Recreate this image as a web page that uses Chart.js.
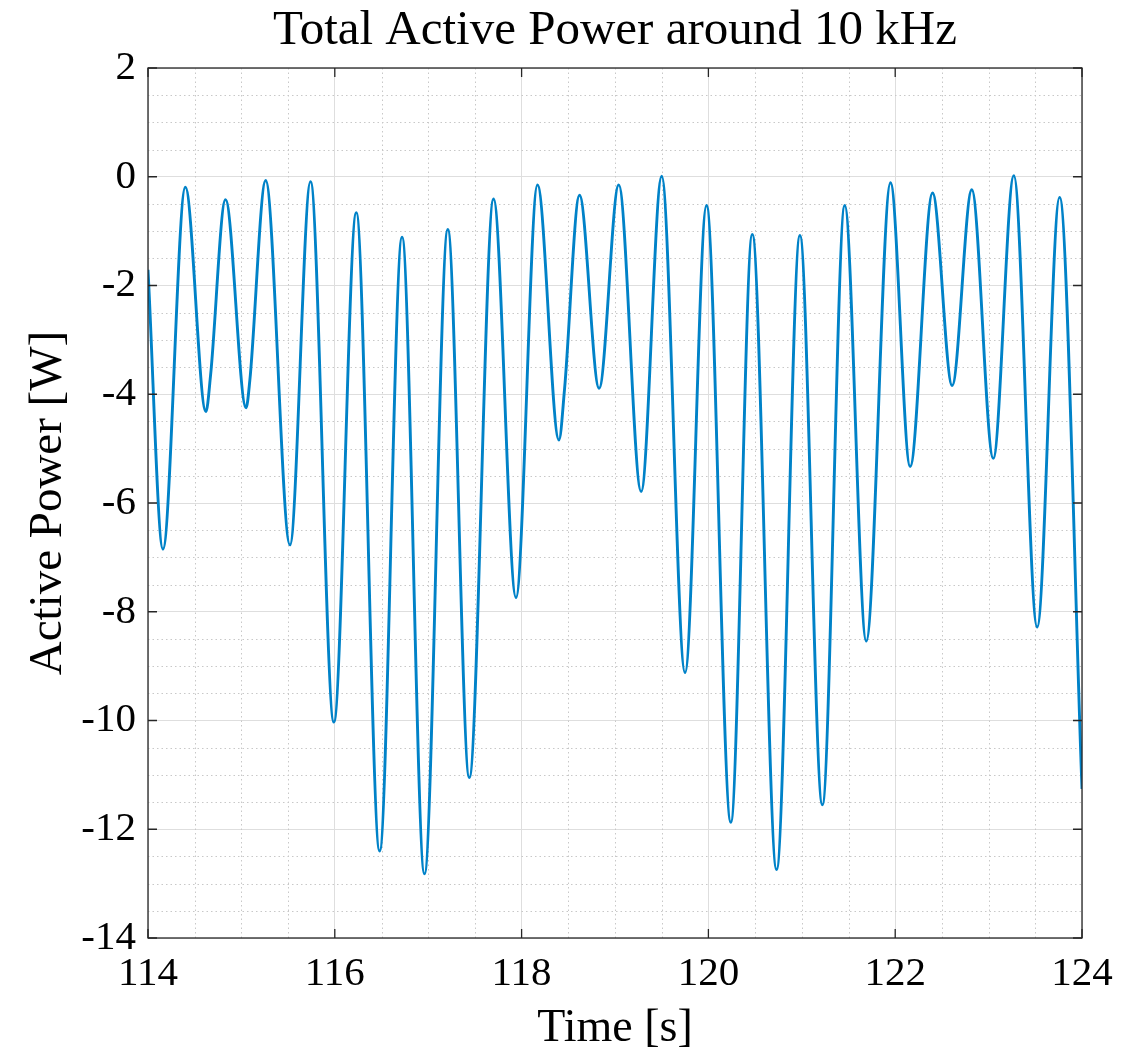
<!DOCTYPE html>
<html>
<head>
<meta charset="utf-8">
<title>Total Active Power around 10 kHz</title>
<script src="https://cdn.jsdelivr.net/npm/chart.js@4/dist/chart.umd.min.js"></script>
<style>
  html, body { margin: 0; padding: 0; background: #ffffff; }
  #wrap { width: 1143px; height: 1054px; }
</style>
</head>
<body>
<div id="wrap"><canvas id="chart" width="1143" height="1054"></canvas></div>
<script>
// Samples (peaks, troughs and a few shoulders)
const timeS = [
  114.00, 114.16, 114.40, 114.62, 114.67, 114.83, 115.05, 115.09, 115.26, 115.52,
  115.74, 115.99, 116.23, 116.48, 116.72, 116.96, 117.21, 117.44, 117.70, 117.94,
  118.17, 118.40, 118.46, 118.62, 118.83, 119.04, 119.28, 119.50, 119.75, 119.98,
  120.24, 120.47, 120.73, 120.98, 121.22, 121.46, 121.69, 121.95, 122.16, 122.40,
  122.61, 122.82, 123.05, 123.27, 123.52, 123.76, 124.00
]

const powerW = [
  -1.71, -6.85, -0.19, -4.32, -3.65, -0.42, -4.25, -3.75, -0.07, -6.77,
  -0.09, -10.03, -0.66, -12.40, -1.11, -12.82, -0.97, -11.05, -0.41, -7.74,
  -0.15, -4.84, -3.90, -0.34, -3.89, -0.15, -5.79, 0.01, -9.12, -0.53,
  -11.87, -1.06, -12.74, -1.08, -11.55, -0.53, -8.54, -0.11, -5.33, -0.30,
  -3.84, -0.24, -5.18, 0.02, -8.28, -0.38, -11.26
]

// Axis limits and tick steps
const xLimits = [114, 124]
const yLimits = [-14, 2]
const majorStep = 2
const minorStep = 0.5

const serif = "'Liberation Serif', 'DejaVu Serif', serif"
const lineColor = 'rgb(0, 130, 200)'
const boxColor = '#262626'

const points = timeS.map((t, i) => ({ x: t, y: powerW[i] }))

// Dotted minor grid, drawn under the data
const minorGrid = {
  id: 'minorGrid',
  beforeDatasetsDraw(chart) {
    const { ctx, chartArea, scales } = chart
    ctx.save()
    ctx.strokeStyle = '#c8c8c8'
    ctx.lineWidth = 1
    ctx.setLineDash([1.5, 3])
    for (let v = xLimits[0]; v <= xLimits[1] + 1e-9; v += minorStep) {
      if (Math.abs(v / majorStep - Math.round(v / majorStep)) < 1e-6) continue
      const px = Math.round(scales.x.getPixelForValue(v)) + 0.5
      ctx.beginPath()
      ctx.moveTo(px, chartArea.top)
      ctx.lineTo(px, chartArea.bottom)
      ctx.stroke()
    }
    for (let v = yLimits[0]; v <= yLimits[1] + 1e-9; v += minorStep) {
      if (Math.abs(v / majorStep - Math.round(v / majorStep)) < 1e-6) continue
      const py = Math.round(scales.y.getPixelForValue(v)) + 0.5
      ctx.beginPath()
      ctx.moveTo(chartArea.left, py)
      ctx.lineTo(chartArea.right, py)
      ctx.stroke()
    }
    ctx.restore()
  }
}

// Axes box with inward tick marks on all four sides
const axesBox = {
  id: 'axesBox',
  afterDraw(chart) {
    const { ctx, chartArea, scales } = chart
    const { left, right, top, bottom } = chartArea
    const len = 9
    ctx.save()
    ctx.strokeStyle = boxColor
    ctx.lineWidth = 1.3
    ctx.setLineDash([])
    ctx.strokeRect(left, top, right - left, bottom - top)
    ctx.beginPath()
    for (let v = xLimits[0]; v <= xLimits[1]; v += majorStep) {
      const px = scales.x.getPixelForValue(v)
      ctx.moveTo(px, bottom)
      ctx.lineTo(px, bottom - len)
      ctx.moveTo(px, top)
      ctx.lineTo(px, top + len)
    }
    for (let v = yLimits[0]; v <= yLimits[1]; v += majorStep) {
      const py = scales.y.getPixelForValue(v)
      ctx.moveTo(left, py)
      ctx.lineTo(left + len, py)
      ctx.moveTo(right, py)
      ctx.lineTo(right - len, py)
    }
    ctx.stroke()
    ctx.restore()
  }
}

const config = {
  type: 'line',
  data: {
    datasets: [{
      label: 'Active Power',
      data: points,
      borderColor: lineColor,
      borderWidth: 2.9,
      pointRadius: 0,
      fill: false,
      cubicInterpolationMode: 'monotone'
    }]
  },
  options: {
    responsive: false,
    animation: false,
    devicePixelRatio: 1,
    layout: {
      padding: { left: 0, right: 61, top: 0, bottom: 0 }
    },
    plugins: {
      legend: { display: false },
      tooltip: { enabled: false },
      title: {
        display: true,
        fullSize: false,
        text: 'Total Active Power around 10 kHz',
        color: '#000000',
        font: { family: serif, size: 49, weight: 'normal', lineHeight: 1 },
        padding: { top: 7, bottom: 12 }
      }
    },
    scales: {
      x: {
        type: 'linear',
        min: xLimits[0],
        max: xLimits[1],
        afterFit(scale) { scale.height = 116 },
        ticks: {
          stepSize: majorStep,
          color: '#000000',
          padding: 12,
          maxRotation: 0,
          font: { family: serif, size: 41 },
          callback: v => String(v)
        },
        grid: { color: '#dedede', lineWidth: 1, drawTicks: false },
        border: { display: false },
        title: {
          display: true,
          text: 'Time [s]',
          color: '#000000',
          font: { family: serif, size: 46, lineHeight: 1 },
          padding: { top: 0, bottom: 2 }
        }
      },
      y: {
        type: 'linear',
        min: yLimits[0],
        max: yLimits[1],
        afterFit(scale) { scale.width = 148 },
        ticks: {
          stepSize: majorStep,
          color: '#000000',
          padding: 12,
          font: { family: serif, size: 41 },
          callback: v => String(v)
        },
        grid: { color: '#dedede', lineWidth: 1, drawTicks: false },
        border: { display: false },
        title: {
          display: true,
          text: 'Active Power [W]',
          color: '#000000',
          font: { family: serif, size: 47, lineHeight: 1 },
          padding: { top: 25, bottom: 0 }
        }
      }
    }
  },
  plugins: [minorGrid, axesBox]
}

const chart = new Chart(document.getElementById('chart'), config)
</script>
</body>
</html>
